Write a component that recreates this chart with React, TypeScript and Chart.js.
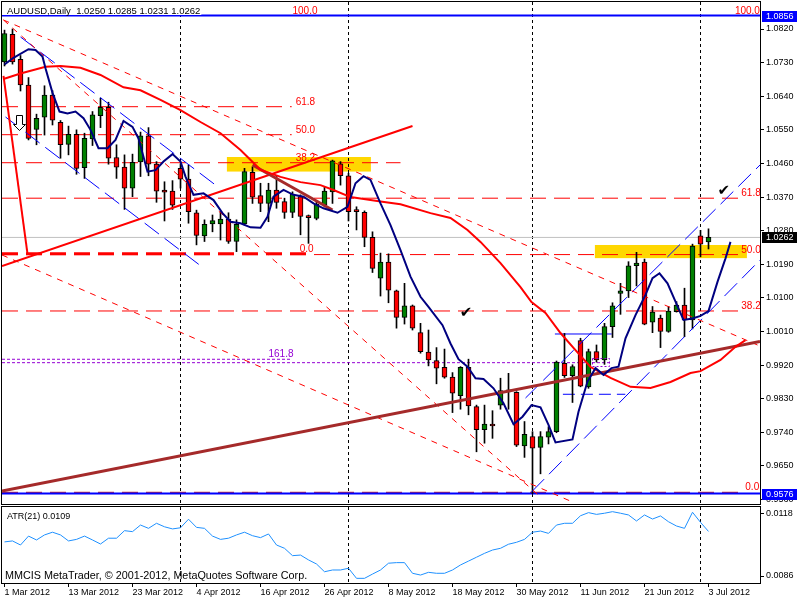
import React, { useEffect, useRef } from "react";
import { Chart, registerables } from "chart.js";

Chart.register(...registerables);
Chart.defaults.font.family = "'Liberation Sans', Arial, sans-serif";

// ---------- categories / ticks ----------
const tickIndex = [0, 8, 16, 24, 32, 40, 48, 56, 64, 72, 80, 88];
const tickLabels = ["1 Mar 2012", "13 Mar 2012", "23 Mar 2012", "4 Apr 2012", "16 Apr 2012", "26 Apr 2012", "8 May 2012", "18 May 2012", "30 May 2012", "11 Jun 2012", "21 Jun 2012", "3 Jul 2012"];
const monthStartIndex = [22, 43, 66, 87];
const priceTicks = [0.956, 0.965, 0.974, 0.983, 0.992, 1.001, 1.01, 1.019, 1.028, 1.037, 1.046, 1.055, 1.064, 1.073, 1.082];
const atrTicks = [0.0086, 0.0118];

// ---------- OHLC ----------
const opens = [1.0732, 1.0806, 1.0739, 1.0670, 1.0551, 1.0584, 1.0643, 1.0570, 1.0511, 1.0538, 1.0449, 1.0526, 1.0588, 1.0610, 1.0476, 1.0450, 1.0394, 1.0464, 1.0534, 1.0458, 1.0389, 1.0386, 1.0447, 1.0418, 1.0328, 1.0266, 1.0298, 1.0298, 1.0311, 1.0251, 1.0298, 1.0436, 1.0374, 1.0353, 1.0389, 1.0358, 1.0329, 1.0371, 1.0316, 1.0313, 1.0349, 1.0384, 1.0459, 1.0427, 1.0332, 1.0329, 1.0262, 1.0153, 1.0196, 1.0119, 1.0048, 1.0079, 1.0007, 0.9955, 0.9932, 0.9914, 0.9888, 0.9838, 0.9914, 0.9809, 0.9747, 0.9762, 0.9813, 0.9854, 0.9847, 0.9704, 0.9729, 0.9700, 0.9727, 0.9742, 0.9925, 0.9892, 0.9986, 0.9862, 0.9956, 0.9934, 1.0023, 1.0112, 1.0119, 1.0186, 1.0196, 1.0035, 1.0046, 1.0010, 1.0063, 1.0081, 1.0041, 1.0266, 1.0250];
const highs = [1.0817, 1.0820, 1.0749, 1.0690, 1.0592, 1.0668, 1.0655, 1.0575, 1.0560, 1.0550, 1.0541, 1.0599, 1.0635, 1.0624, 1.0510, 1.0483, 1.0485, 1.0544, 1.0556, 1.0465, 1.0411, 1.0414, 1.0459, 1.0456, 1.0335, 1.0309, 1.0322, 1.0331, 1.0328, 1.0309, 1.0447, 1.0451, 1.0407, 1.0407, 1.0425, 1.0367, 1.0384, 1.0376, 1.0322, 1.0358, 1.0398, 1.0469, 1.0465, 1.0434, 1.0344, 1.0333, 1.0277, 1.0220, 1.0218, 1.0121, 1.0139, 1.0081, 1.0032, 1.0014, 0.9967, 0.9963, 0.9900, 0.9916, 0.9936, 0.9813, 0.9813, 0.9798, 0.9885, 0.9898, 0.9849, 0.9769, 0.9742, 0.9742, 0.9755, 0.9931, 1.0005, 0.9921, 0.9992, 0.9963, 0.9974, 1.0032, 1.0087, 1.0139, 1.0197, 1.0222, 1.0204, 1.0077, 1.0054, 1.0077, 1.0090, 1.0126, 1.0244, 1.0281, 1.0285];
const lows = [1.0721, 1.0726, 1.0654, 1.0523, 1.0510, 1.0536, 1.0563, 1.0474, 1.0483, 1.0431, 1.0420, 1.0508, 1.0556, 1.0458, 1.0420, 1.0337, 1.0371, 1.0425, 1.0427, 1.0356, 1.0306, 1.0337, 1.0394, 1.0300, 1.0242, 1.0251, 1.0277, 1.0255, 1.0246, 1.0224, 1.0295, 1.0353, 1.0331, 1.0304, 1.0340, 1.0313, 1.0315, 1.0269, 1.0246, 1.0309, 1.0344, 1.0353, 1.0402, 1.0306, 1.0282, 1.0237, 1.0168, 1.0105, 1.0087, 1.0019, 1.0030, 1.0014, 0.9952, 0.9918, 0.9870, 0.9885, 0.9793, 0.9802, 0.9787, 0.9688, 0.9711, 0.9724, 0.9802, 0.9802, 0.9702, 0.9673, 0.9576, 0.9629, 0.9709, 0.9739, 0.9887, 0.9820, 0.9862, 0.9858, 0.9928, 0.9922, 0.9994, 1.0056, 1.0101, 1.0132, 1.0028, 1.0007, 0.9967, 1.0008, 1.0062, 0.9996, 1.0017, 1.0210, 1.0231];
const closes = [1.0808, 1.0732, 1.0670, 1.0527, 1.0581, 1.0643, 1.0576, 1.0510, 1.0538, 1.0447, 1.0527, 1.0590, 1.0610, 1.0474, 1.0450, 1.0394, 1.0463, 1.0534, 1.0458, 1.0386, 1.0383, 1.0348, 1.0418, 1.0331, 1.0267, 1.0297, 1.0307, 1.0311, 1.0251, 1.0297, 1.0438, 1.0370, 1.0353, 1.0389, 1.0356, 1.0329, 1.0378, 1.0318, 1.0315, 1.0351, 1.0386, 1.0467, 1.0427, 1.0331, 1.0331, 1.0262, 1.0179, 1.0196, 1.0121, 1.0048, 1.0079, 1.0019, 0.9956, 0.9934, 0.9912, 0.9888, 0.9845, 0.9914, 0.9811, 0.9747, 0.9762, 0.9757, 0.9852, 0.9848, 0.9706, 0.9735, 0.9698, 0.9729, 0.9742, 0.9928, 0.9892, 0.9916, 0.9864, 0.9956, 0.9934, 1.0023, 1.0079, 1.0119, 1.0186, 1.0193, 1.0030, 1.0062, 1.0010, 1.0065, 1.0081, 1.0041, 1.0239, 1.0244, 1.0262];

// ---------- indicator lines (bar index, value) ----------
const navyMA: [number, number][] = [[0, 1.0725], [1.125, 1.0743], [3, 1.0766], [3.875, 1.0764], [4.75, 1.0746], [5.125, 1.0715], [6, 1.0649], [6.875, 1.0599], [7.875, 1.0594], [8.875, 1.0599], [9.875, 1.0581], [10.75, 1.0550], [11.75, 1.0501], [12.875, 1.0501], [13.875, 1.0523], [14.875, 1.0574], [16, 1.0558], [16.75, 1.0527], [17.875, 1.0438], [18.875, 1.0442], [19.875, 1.0465], [21, 1.0485], [22, 1.0465], [22.625, 1.0425], [23.625, 1.0376], [24.875, 1.0380], [26.125, 1.0362], [27.25, 1.0327], [28.25, 1.0304], [29.5, 1.0300], [30.75, 1.0289], [32, 1.0288], [32.875, 1.0317], [33.625, 1.0371], [34.875, 1.0389], [36.125, 1.0376], [37.375, 1.0371], [38.625, 1.0353], [39.875, 1.0340], [41.625, 1.0328], [42.875, 1.0344], [43.875, 1.0407], [44.875, 1.0426], [45.75, 1.0416], [47, 1.0353], [48.25, 1.0295], [49.5, 1.0228], [50.75, 1.0157], [52, 1.0103], [53, 1.0076], [54.75, 1.0027], [55.75, 0.9978], [56.75, 0.9936], [57.875, 0.9916], [58.875, 0.9885], [59.875, 0.9883], [61.125, 0.9858], [62.375, 0.9818], [63.625, 0.9762], [64.75, 0.9782], [65.875, 0.9813], [67, 0.9807], [68, 0.9760], [68.875, 0.9713], [71, 0.9721], [71.75, 0.9795], [72.875, 0.9876], [73.875, 0.9912], [74.875, 0.9894], [75.875, 0.9912], [76.75, 0.9916], [77.625, 0.9992], [78.875, 1.0054], [80.125, 1.0108], [81, 1.0153], [81.875, 1.0166], [82.875, 1.0139], [83.875, 1.0090], [84.875, 1.0041], [86, 1.0045], [87, 1.0052], [88, 1.0065], [89.125, 1.0143], [90.125, 1.0206], [90.75, 1.0250]];
const redMA: [number, number][] = [[-0.125, 1.0686], [2, 1.0701], [5.125, 1.0719], [7, 1.0721], [9.5, 1.0716], [12, 1.0697], [14.875, 1.0664], [17, 1.0656], [19.5, 1.0630], [22, 1.0603], [24.5, 1.0571], [27, 1.0541], [29.5, 1.0496], [32, 1.0443], [34.5, 1.0424], [37, 1.0410], [39.5, 1.0402], [41.125, 1.0389], [43.25, 1.0370], [47, 1.0358], [49.5, 1.0351], [53.25, 1.0327], [55.75, 1.0314], [57.875, 1.0282], [59.5, 1.0250], [62, 1.0193], [64.5, 1.0129], [65.875, 1.0089], [67.625, 1.0060], [69.5, 1.0006], [71.125, 0.9966], [73.25, 0.9915], [75.75, 0.9886], [78.25, 0.9862], [80.75, 0.9859], [83.25, 0.9875], [85.75, 0.9899], [87, 0.9904], [89.5, 0.9934], [91.375, 0.9969], [92.625, 0.9987]];
const atrValues = [0.01036, 0.01041, 0.01020, 0.01066, 0.01046, 0.01072, 0.01086, 0.01072, 0.01041, 0.01049, 0.01066, 0.01046, 0.01025, 0.01055, 0.01055, 0.01094, 0.01089, 0.01123, 0.01106, 0.01132, 0.01114, 0.01103, 0.01109, 0.01153, 0.01111, 0.01106, 0.01066, 0.01049, 0.01055, 0.01072, 0.01086, 0.01068, 0.01058, 0.01077, 0.01020, 0.01003, 0.00965, 0.00968, 0.00943, 0.00922, 0.00882, 0.00891, 0.00891, 0.00900, 0.00848, 0.00848, 0.00870, 0.00891, 0.00926, 0.00929, 0.00929, 0.00874, 0.00865, 0.00879, 0.00874, 0.00874, 0.00891, 0.00917, 0.00937, 0.00957, 0.00977, 0.00994, 0.01003, 0.01024, 0.01034, 0.01049, 0.01086, 0.01092, 0.01080, 0.01123, 0.01132, 0.01132, 0.01171, 0.01187, 0.01178, 0.01184, 0.01192, 0.01184, 0.01175, 0.01144, 0.01175, 0.01154, 0.01170, 0.01140, 0.01118, 0.01106, 0.01189, 0.01137, 0.01090];

// ---------- drawn objects (bar index, price) ----------
const trendRedLong: [number, number][] = [[-0.3125, 1.01855], [51, 1.05603]];
const trendRedSteep: [number, number][] = [[-0.125, 1.06942], [2.875, 1.02176]];
const trendBrownLong: [number, number][] = [[-0.3125, 0.95831], [94.4375, 0.99833]];
const trendBrownShort: [number, number][] = [[31, 1.04559], [41, 1.03354]];
const chanBlueUpper: [number, number][] = [[2, 1.07986], [26.375, 1.04023]];
const chanBlueLower: [number, number][] = [[0.125, 1.05844], [24.875, 1.01801]];
const riseBlueLower: [number, number][] = [[65.875, 0.95804], [94.4375, 1.02015]];
const riseBlueUpper: [number, number][] = [[65.125, 0.9832], [94.4375, 1.04559]];
const diagRed1: [number, number][] = [[-0.125, 1.08441], [94.125, 0.99739]];
const diagRed2: [number, number][] = [[-0.125, 1.08441], [67, 0.9567]];
const diagRed3: [number, number][] = [[-0.3125, 1.02149], [71, 0.95536]];

const fibAPrices = [1.0612, 1.0537, 1.0462, 1.0218];
const fibAEnds = [35.9, 35.9, 49.5, 38.3];
const fibBPrices = [1.0367, 1.0216, 1.0065, 0.95795];
const fibBEnd = 92.0;
const fibLabelText = ["100.0", "61.8", "50.0", "38.2", "0.0", "100.0", "61.8", "50.0", "38.2", "0.0"];
const fibLabelIdx = [36.0, 36.4, 36.4, 36.4, 36.9, 91.3, 92.1, 92.1, 92.1, 92.6];
const fibLabelPrice = [1.0856, 1.0612, 1.0537, 1.0462, 1.0218, 1.0856, 1.0367, 1.0216, 1.0065, 0.95795];
const purplePrices = [0.99357, 0.99266];
const purpleEnds = [35.7, 75.7];
const purpleLabel = { text: "161.8", idx: 33.0, price: 0.99357 };
const purpleBox = [73.4, 75.6, 0.9917, 0.99384];
const blueBoxTop: [number, number][] = [[68.8, 1.00034], [75.9, 1.00034]];
const blueBoxBottom: [number, number][] = [[69.8, 0.9842], [77.6, 0.9842]];
const blueLevels = [1.0856, 0.9576];
const bidPrice = 1.0262;
const yellowZones = [[27.8, 45.8, 1.04383, 1.04773], [73.8, 92.8, 1.02065, 1.02417]];
const checkMarks = [[57.7, 1.0058], [89.9, 1.0386]];
const arrowMark = [1.8, 1.0589];
const priceBoxes = [[1.0856, "#0000FF"], [1.0262, "#000000"], [0.9576, "#0000FF"]];
const titleText = "AUDUSD,Daily  1.0250 1.0285 1.0231 1.0262";
const atrTitle = "ATR(21) 0.0109";
const copyright = "MMCIS MetaTrader, © 2001-2012, MetaQuotes Software Corp.";

const X_MIN = -0.3125;
const X_MAX = 94.4375;
const P_MIN = 0.95482;
const P_MAX = 1.08923;
const A_MIN = 0.008239;
const A_MAX = 0.012161;

function lineDs(points: [number, number][], color: string, width: number, dash: number[], order: number): any {
  return {
    type: "line",
    data: points.map(([x, y]) => ({ x, y })),
    borderColor: color,
    backgroundColor: color,
    borderWidth: width,
    borderDash: dash,
    pointRadius: 0,
    pointHoverRadius: 0,
    fill: false,
    tension: 0,
    order,
  };
}

function drawSeparators(ctx: CanvasRenderingContext2D, xs: any, a: any) {
  ctx.save();
  ctx.strokeStyle = "#000";
  ctx.lineWidth = 1;
  ctx.setLineDash([3, 3]);
  for (const i of monthStartIndex) {
    const px = Math.floor(xs.getPixelForValue(i)) + 0.5;
    ctx.beginPath();
    ctx.moveTo(px, a.top);
    ctx.lineTo(px, a.bottom);
    ctx.stroke();
  }
  ctx.restore();
}

function drawFrame(ctx: CanvasRenderingContext2D, a: any) {
  ctx.save();
  ctx.strokeStyle = "#000";
  ctx.lineWidth = 1;
  ctx.setLineDash([]);
  ctx.strokeRect(a.left - 0.5, a.top - 0.5, a.right - a.left + 1, a.bottom - a.top + 1);
  ctx.restore();
}

const mainDecor = {
  id: "mainDecor",
  beforeDatasetsDraw(chart: any) {
    const { ctx, chartArea: a } = chart;
    const xs = chart.scales.x;
    const ys = chart.scales.y;
    ctx.save();
    ctx.beginPath();
    ctx.rect(a.left, a.top, a.right - a.left, a.bottom - a.top);
    ctx.clip();
    ctx.fillStyle = "#FFD700";
    for (const z of yellowZones) {
      const x0 = xs.getPixelForValue(z[0]);
      const x1 = xs.getPixelForValue(z[1]);
      const y0 = ys.getPixelForValue(z[3]);
      const y1 = ys.getPixelForValue(z[2]);
      ctx.fillRect(x0, y0, x1 - x0, y1 - y0);
    }
    drawSeparators(ctx, xs, a);
    ctx.restore();
  },
  afterDatasetsDraw(chart: any) {
    const { ctx, chartArea: a } = chart;
    const xs = chart.scales.x;
    const ys = chart.scales.y;
    ctx.save();
    ctx.beginPath();
    ctx.rect(a.left, a.top, a.right - a.left, a.bottom - a.top);
    ctx.clip();
    ctx.font = "10px 'Liberation Sans'";
    ctx.textBaseline = "alphabetic";
    ctx.textAlign = "left";
    ctx.fillStyle = "#FF0000";
    fibLabelText.forEach((t, i) => {
      ctx.fillText(t, xs.getPixelForValue(fibLabelIdx[i]), ys.getPixelForValue(fibLabelPrice[i]) - 2);
    });
    ctx.fillStyle = "#9400D3";
    ctx.fillText(purpleLabel.text, xs.getPixelForValue(purpleLabel.idx), ys.getPixelForValue(purpleLabel.price) - 2);
    ctx.strokeStyle = "#9400D3";
    ctx.lineWidth = 1;
    ctx.setLineDash([2, 2]);
    const bx0 = Math.round(xs.getPixelForValue(purpleBox[0])) + 0.5;
    const bx1 = Math.round(xs.getPixelForValue(purpleBox[1])) + 0.5;
    const by0 = Math.round(ys.getPixelForValue(purpleBox[3])) + 0.5;
    const by1 = Math.round(ys.getPixelForValue(purpleBox[2])) + 0.5;
    ctx.strokeRect(bx0, by0, bx1 - bx0, by1 - by0);
    ctx.setLineDash([]);
    ctx.fillStyle = "#000";
    ctx.font = "15px 'DejaVu Sans'";
    ctx.textAlign = "center";
    ctx.textBaseline = "middle";
    for (const c of checkMarks) {
      ctx.fillText("\u2714", xs.getPixelForValue(c[0]), ys.getPixelForValue(c[1]));
    }
    const ax = Math.round(xs.getPixelForValue(arrowMark[0])) + 0.5;
    const ay = Math.round(ys.getPixelForValue(arrowMark[1])) + 0.5;
    ctx.beginPath();
    ctx.moveTo(ax - 3, ay);
    ctx.lineTo(ax + 3, ay);
    ctx.lineTo(ax + 3, ay + 9);
    ctx.lineTo(ax + 6, ay + 9);
    ctx.lineTo(ax, ay + 15);
    ctx.lineTo(ax - 6, ay + 9);
    ctx.lineTo(ax - 3, ay + 9);
    ctx.closePath();
    ctx.fillStyle = "#fff";
    ctx.fill();
    ctx.strokeStyle = "#000";
    ctx.stroke();
    ctx.restore();
  },
  afterDraw(chart: any) {
    const { ctx, chartArea: a } = chart;
    const ys = chart.scales.y;
    drawFrame(ctx, a);
    ctx.save();
    ctx.font = "9.5px 'Liberation Sans'";
    const w = ctx.measureText(titleText).width;
    ctx.fillStyle = "#fff";
    ctx.fillRect(a.left, a.top, w + 6, 13);
    ctx.fillStyle = "#000";
    ctx.textAlign = "left";
    ctx.textBaseline = "alphabetic";
    ctx.fillText(titleText, a.left + 5, 14);
    ctx.font = "9px 'Liberation Sans'";
    ctx.textBaseline = "middle";
    for (const [p, bg] of priceBoxes as any) {
      const y = Math.round(ys.getPixelForValue(p));
      ctx.fillStyle = bg;
      ctx.fillRect(a.right + 2, y - 5, 35, 11);
      ctx.fillStyle = "#fff";
      ctx.fillText(Number(p).toFixed(4), a.right + 6, y + 0.5);
    }
    ctx.restore();
  },
};

const atrDecor = {
  id: "atrDecor",
  beforeDatasetsDraw(chart: any) {
    drawSeparators(chart.ctx, chart.scales.x, chart.chartArea);
  },
  afterDraw(chart: any) {
    const { ctx, chartArea: a } = chart;
    drawFrame(ctx, a);
    ctx.save();
    ctx.fillStyle = "#000";
    ctx.textAlign = "left";
    ctx.textBaseline = "middle";
    ctx.font = "9px 'Liberation Sans'";
    ctx.fillText(atrTitle, a.left + 5, a.top + 9.5);
    ctx.font = "10.8px 'Liberation Sans'";
    ctx.fillText(copyright, a.left + 3, a.top + 69);
    ctx.restore();
  },
};

function fitY(s: any) {
  s.width = 40;
  s.paddingTop = 0;
  s.paddingBottom = 0;
}

function fitX(s: any) {
  s.height = 17;
  s.paddingLeft = 0;
  s.paddingRight = 0;
}

export default function App() {
  const mainRef = useRef<HTMLCanvasElement | null>(null);
  const atrRef = useRef<HTMLCanvasElement | null>(null);

  useEffect(() => {
    const idx = opens.map((_, i) => i);
    const wickData = idx.map((i) => ({ x: i, y: [lows[i], highs[i]] }));
    const bodyData = idx.map((i) => ({ x: i, y: [opens[i], closes[i]] }));
    const bodyColors = idx.map((i) => (closes[i] >= opens[i] ? "#008000" : "#FF0000"));

    const datasets: any[] = [];
    fibAPrices.forEach((p, i) => {
      datasets.push(lineDs([[X_MIN, p], [fibAEnds[i], p]], "#FF0000", i === 3 ? 3 : 1, [16, 8], 100));
    });
    fibBPrices.forEach((p, i) => {
      datasets.push(lineDs([[X_MIN, p], [fibBEnd, p]], i === 3 ? "#C00000" : "#FF0000", 1, [16, 8], 100));
    });
    purplePrices.forEach((p, i) => {
      datasets.push(lineDs([[X_MIN, p], [purpleEnds[i], p]], "#9400D3", 1, [3, 2], 100));
    });
    datasets.push(lineDs([[X_MIN, bidPrice], [X_MAX, bidPrice]], "#C0C0C0", 1, [], 100));
    blueLevels.forEach((p) => datasets.push(lineDs([[X_MIN, p], [X_MAX, p]], "#0000FF", 2, [], 90)));
    datasets.push(lineDs(blueBoxTop, "#0000FF", 1, [], 90));
    datasets.push(lineDs(blueBoxBottom, "#0000FF", 1, [12, 6], 90));

    datasets.push({
      type: "bar",
      data: wickData,
      backgroundColor: "#000",
      borderWidth: 0,
      barThickness: 1,
      grouped: false,
      order: 50,
    });
    datasets.push({
      type: "bar",
      data: bodyData,
      backgroundColor: bodyColors,
      borderColor: "#000",
      borderWidth: 1,
      borderSkipped: false,
      barThickness: 5,
      minBarLength: 2,
      grouped: false,
      order: 40,
    });

    datasets.push(lineDs(diagRed1, "#FF0000", 1, [6, 6], 20));
    datasets.push(lineDs(diagRed2, "#FF0000", 1, [6, 6], 20));
    datasets.push(lineDs(diagRed3, "#FF0000", 1, [6, 6], 20));
    datasets.push(lineDs(chanBlueUpper, "#0000FF", 1, [18, 7], 20));
    datasets.push(lineDs(chanBlueLower, "#0000FF", 1, [18, 7], 20));
    datasets.push(lineDs(riseBlueLower, "#0000FF", 1, [18, 7], 20));
    datasets.push(lineDs(riseBlueUpper, "#0000FF", 1, [18, 7], 20));
    datasets.push(lineDs(trendBrownLong, "#A52A2A", 3, [], 15));
    datasets.push(lineDs(trendBrownShort, "#A52A2A", 3, [], 15));
    datasets.push(lineDs(trendRedLong, "#FF0000", 2, [], 15));
    datasets.push(lineDs(trendRedSteep, "#FF0000", 2, [], 15));
    datasets.push(lineDs(redMA, "#FF0000", 2, [], 10));
    datasets.push(lineDs(navyMA, "#000080", 2, [], 5));

    const main = new Chart(mainRef.current as HTMLCanvasElement, {
      type: "bar",
      data: { datasets },
      options: {
        animation: false,
        responsive: false,
        maintainAspectRatio: false,
        events: [],
        layout: { padding: { left: 2, top: 2, right: 0, bottom: 1 } },
        plugins: { legend: { display: false }, tooltip: { enabled: false } },
        scales: {
          x: {
            type: "linear",
            display: false,
            min: X_MIN,
            max: X_MAX,
            offset: false,
            grid: { offset: false },
          },
          y: {
            type: "linear",
            position: "right",
            min: P_MIN,
            max: P_MAX,
            afterBuildTicks: (s: any) => {
              s.ticks = priceTicks.map((v) => ({ value: v }));
            },
            afterFit: fitY,
            ticks: {
              autoSkip: false,
              color: "#000",
              padding: 2,
              font: { size: 9 },
              callback: (v: any) => Number(v).toFixed(4),
            },
            grid: { drawOnChartArea: false, drawTicks: true, tickLength: 4, color: "#000" },
            border: { display: true, color: "#000" },
          },
        },
      } as any,
      plugins: [mainDecor],
    } as any);

    const atr = new Chart(atrRef.current as HTMLCanvasElement, {
      type: "line",
      data: {
        datasets: [
          {
            data: atrValues.map((v, i) => ({ x: i, y: v })),
            borderColor: "#1E90FF",
            borderWidth: 1,
            pointRadius: 0,
            tension: 0,
            fill: false,
          },
        ],
      },
      options: {
        animation: false,
        responsive: false,
        maintainAspectRatio: false,
        events: [],
        layout: { padding: { left: 2, top: 2, right: 0, bottom: 0 } },
        plugins: { legend: { display: false }, tooltip: { enabled: false } },
        scales: {
          x: {
            type: "linear",
            position: "bottom",
            min: X_MIN,
            max: X_MAX,
            offset: false,
            afterBuildTicks: (s: any) => {
              s.ticks = tickIndex.map((v) => ({ value: v }));
            },
            afterFit: fitX,
            ticks: {
              autoSkip: false,
              maxRotation: 0,
              minRotation: 0,
              align: "start",
              color: "#000",
              padding: 0,
              font: { size: 9 },
              callback: (v: any) => {
                const k = tickIndex.indexOf(Number(v));
                return k >= 0 ? tickLabels[k] : "";
              },
            },
            grid: { drawOnChartArea: false, drawTicks: true, tickLength: 4, color: "#000" },
            border: { display: true, color: "#000" },
          },
          y: {
            type: "linear",
            position: "right",
            min: A_MIN,
            max: A_MAX,
            afterBuildTicks: (s: any) => {
              s.ticks = atrTicks.map((v) => ({ value: v }));
            },
            afterFit: fitY,
            ticks: {
              autoSkip: false,
              color: "#000",
              padding: 2,
              font: { size: 9 },
              callback: (v: any) => Number(v).toFixed(4),
            },
            grid: { drawOnChartArea: false, drawTicks: true, tickLength: 4, color: "#000" },
            border: { display: true, color: "#000" },
          },
        },
      } as any,
      plugins: [atrDecor],
    } as any);

    return () => {
      main.destroy();
      atr.destroy();
    };
  }, []);

  return (
    <div style={{ position: "absolute", left: 0, top: 0, width: 800, height: 600, background: "#fff" }}>
      <canvas ref={mainRef} width={800} height={505} style={{ position: "absolute", left: 0, top: 0 }} />
      <canvas ref={atrRef} width={800} height={95} style={{ position: "absolute", left: 0, top: 505 }} />
    </div>
  );
}
